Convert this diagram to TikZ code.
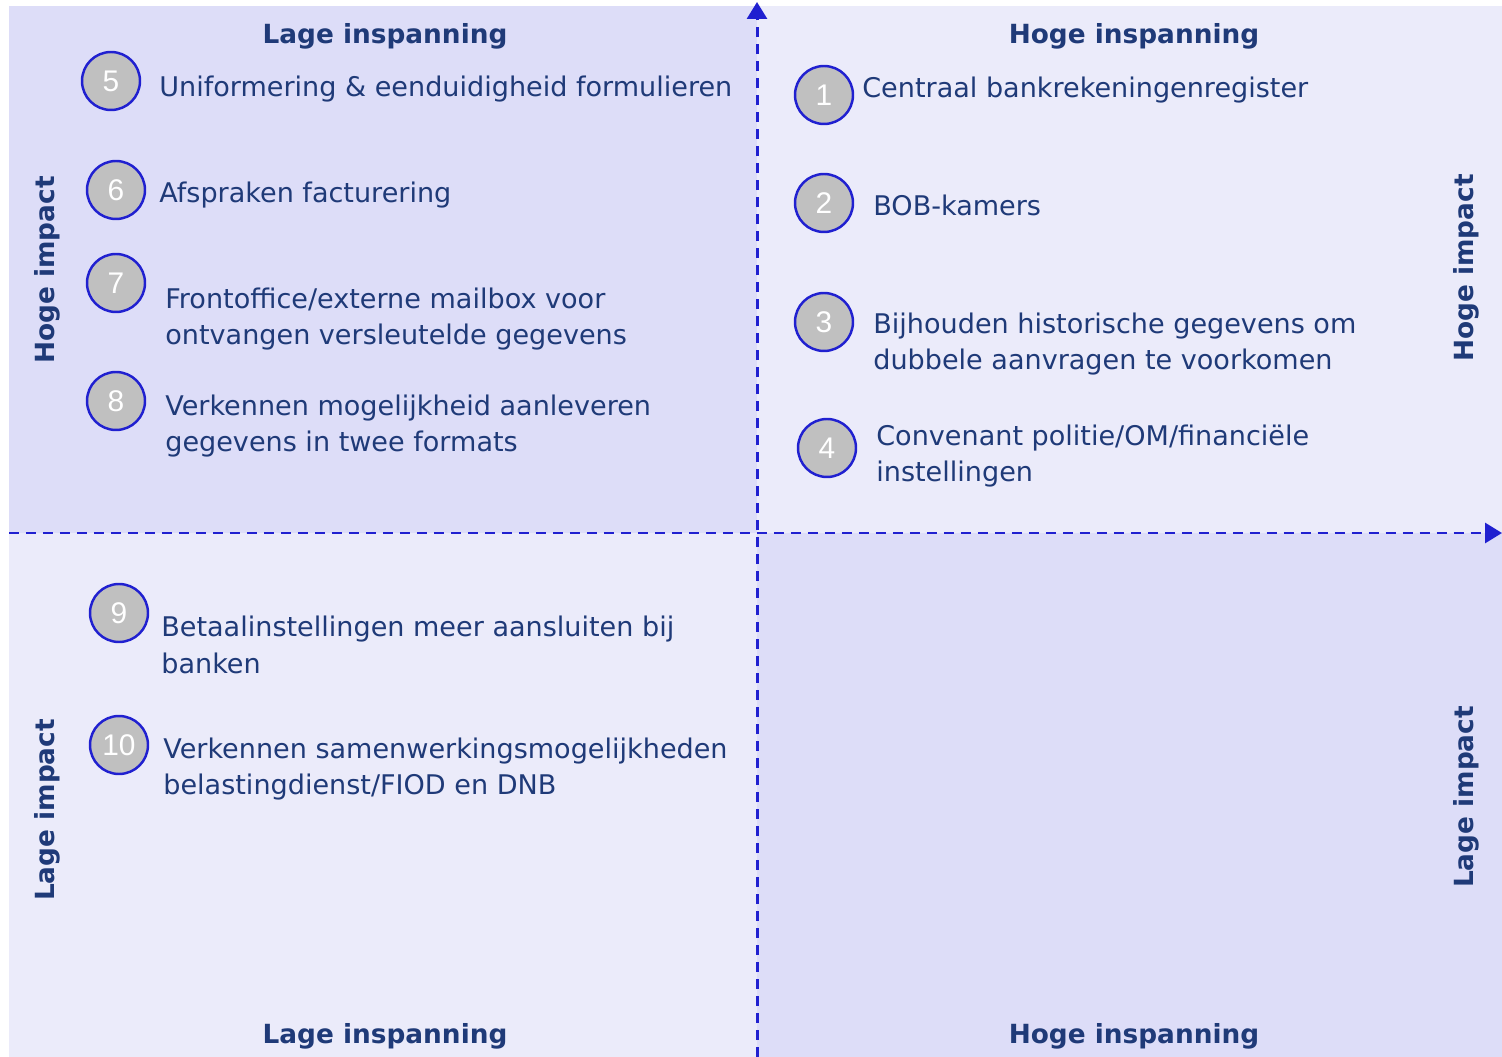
\documentclass[tikz,border=0pt]{standalone}
\usepackage{fontspec}
\setmainfont{DejaVu Sans}
\newfontfamily\numfont{Liberation Sans}
\usetikzlibrary{arrows.meta,positioning}
\definecolor{darkq}{HTML}{DDDDF8}
\definecolor{lightq}{HTML}{EBEBFA}
\definecolor{axisblue}{HTML}{2020D0}
\definecolor{textblue}{HTML}{1F3A78}
\definecolor{numgray}{HTML}{C0C0C0}

\begin{document}
\begin{tikzpicture}
  [x=0.02cm,y=-0.02cm,
   num/.style={circle,fill=numgray,draw=axisblue,line width=1.4pt,minimum size=1.16cm,inner sep=0pt,
     text=white,font=\numfont\fontsize{17}{17}\selectfont},
   item/.style={anchor=west,align=left,text=textblue,inner sep=0pt,font=\fontsize{15.4}{21}\selectfont},
   head/.style={text=textblue,font=\bfseries\fontsize{15}{15}\selectfont},
   side/.style={head,rotate=90},
   axis/.style={draw=axisblue,line width=1.7pt,dash pattern=on 0.2cm off 0.14cm,-{Triangle[length=0.34cm,width=0.4cm]}}]
  \useasboundingbox (0,0) rectangle (1502,1057);
  % quadrants
  \fill[darkq] (9,6) rectangle (757,533);
  \fill[lightq] (757,6) rectangle (1502,533);
  \fill[lightq] (9,533) rectangle (757,1057);
  \fill[darkq] (757,533) rectangle (1502,1057);

  % axes
  \coordinate (ybot) at (757,1057);
  \coordinate (ytop) at (757,2);
  \coordinate (xleft) at (9,533);
  \coordinate (xright) at (1502,533);
  \draw[axis] (ybot) -- (ytop);
  \draw[axis] (xleft) -- (xright);

  % headings
  \node[head] (lin1) at (385,36) {Lage inspanning};
  \node[head] (hin1) at (1134,36) {Hoge inspanning};
  \node[head] (lin2) at (385,1036) {Lage inspanning};
  \node[head] (hin2) at (1134,1036) {Hoge inspanning};
  \node[side] (him1) at (47,270) {Hoge impact};
  \node[side] (lim1) at (47,810) {Lage impact};
  \node[side] (him2) at (1466,268) {Hoge impact};
  \node[side] (lim2) at (1466,797) {Lage impact};

  % numbered circles
  \foreach \n/\x/\y in {1/824/95,2/824/203,3/824/322,4/827/448,5/111/81,
                        6/116/190,7/116/283,8/116/401,9/119/613,10/119/745}
    \node[num] (c\n) at (\x,\y) {\n};

  % items
  \node[item] (t5) at (159,89) {Uniformering \& eenduidigheid formulieren};
  \node[item] (t6) at (159,195) {Afspraken facturering};
  \node[item] (t7) at (165,319) {Frontoffice/externe mailbox voor\\ontvangen versleutelde gegevens};
  \node[item] (t8) at (165,426) {Verkennen mogelijkheid aanleveren\\gegevens in twee formats};
  \node[item] (t1) at (862,90) {Centraal bankrekeningenregister};
  \node[item] (t2) at (873,205) {BOB-kamers};
  \node[item] (t3) at (873,344) {Bijhouden historische gegevens om\\dubbele aanvragen te voorkomen};
  \node[item] (t4) at (876,456) {Convenant politie/OM/financiële\\instellingen};
  \node[item] (t9) at (161,645) {Betaalinstellingen meer aansluiten bij\\banken};
  \node[item] (t10) at (163,769) {Verkennen samenwerkingsmogelijkheden\\belastingdienst/FIOD en DNB};
\end{tikzpicture}
\end{document}
